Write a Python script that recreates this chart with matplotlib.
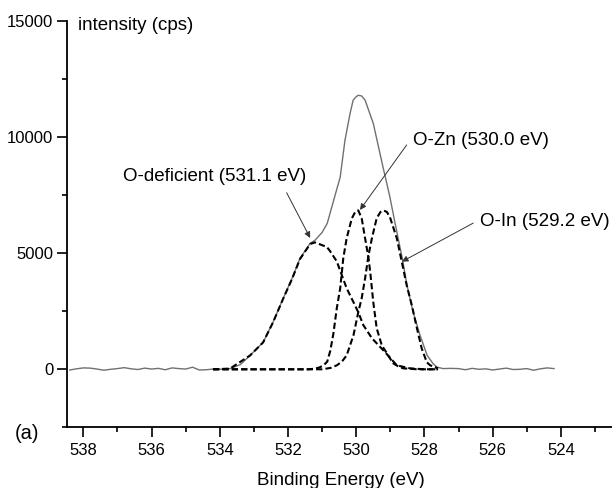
import matplotlib.pyplot as plt
from matplotlib.ticker import MultipleLocator

plt.rcParams['font.family'] = ['Liberation Sans', 'DejaVu Sans']

# measured envelope (binding energy in eV, intensity in cps)
env_E = [538.4, 538.2, 538.0, 537.8, 537.6, 537.4, 537.2, 537.0, 536.8, 536.6,
         536.4, 536.2, 536.0, 535.8, 535.6, 535.4, 535.2, 535.0, 534.8, 534.6,
         534.4, 534.2, 534.0, 533.8, 533.7, 533.4, 533.11, 532.73, 532.44, 532.14,
         531.88, 531.65, 531.35, 531.21, 531.0, 530.85, 530.62, 530.47, 530.33, 530.18,
         530.09, 530.0, 529.94, 529.84, 529.74, 529.5, 529.24, 529.01, 528.86, 528.65,
         528.51, 528.33, 528.13, 527.92, 527.75, 527.63, 527.45, 527.25,
         527.0, 526.8, 526.6, 526.4, 526.2, 526.0, 525.8, 525.6, 525.4, 525.2,
         525.0, 524.8, 524.6, 524.4, 524.2]
env_I = [-30, 20, 60, 50, 10, -40, 0, 30, 70, 20,
         -10, 50, 10, 40, -20, 60, 30, 10, 90, -30,
         -20, 10, 0, 20, 30, 200, 600, 1160, 2030, 3060,
         3920, 4780, 5430, 5560, 5900, 6290, 7500, 8280, 9870, 11030,
         11600, 11750, 11810, 11780, 11600, 10600, 8880, 7410, 6290, 4780,
         3620, 2460, 1470, 600, 250, 90, 30, 40,
         30, -20, 40, 0, 20, -30, 10, 50, -10, 0,
         30, -40, 20, 60, 30]

# fitted components
odef_E = [534.2, 533.7, 533.11, 532.73, 532.44, 532.14, 531.88, 531.65, 531.35, 531.21,
          530.86, 530.77, 530.57, 530.47, 530.28, 530.08, 529.94, 529.79, 529.54, 529.15,
          528.81, 528.42, 528.0, 527.6]
odef_I = [0, 30, 600, 1160, 2020, 3050, 3900, 4750, 5400, 5470,
          5270, 5100, 4650, 4250, 3490, 2890, 2460, 1900, 1340, 730,
          170, 40, 0, 0]

ozn_E = [534.2, 531.4, 531.2, 531.06, 530.95, 530.85, 530.76, 530.67, 530.57, 530.47,
         530.38, 530.28, 530.13, 530.03, 529.94, 529.84, 529.74, 529.64, 529.59, 529.50,
         529.40, 529.25, 529.10, 528.92, 528.75, 528.62, 528.2, 527.6]
ozn_I = [0, 0, 30, 90, 180, 330, 800, 1530, 2630, 3490,
         4780, 5650, 6500, 6780, 6850, 6510, 5650, 4800, 4200, 2900,
         1770, 1030, 690, 260, 110, 40, 0, 0]

oin_E = [534.2, 531.0, 530.75, 530.57, 530.42, 530.28, 530.08, 529.94, 529.84, 529.74,
         529.64, 529.54, 529.40, 529.29, 529.20, 529.10, 529.01, 528.81, 528.66, 528.52,
         528.37, 528.22, 528.08, 527.93, 527.83, 527.6]
oin_I = [0, 0, 60, 170, 330, 600, 1470, 2460, 3060, 3920,
         4910, 5650, 6510, 6780, 6850, 6780, 6550, 5650, 4610, 3620,
         2760, 1770, 900, 300, 170, 40]

# (label, text position, arrow tail, arrow tip)
notes = [
    ('O-deficient (531.1 eV)', (536.84, 8300), (532.04, 7610), (531.35, 5660)),
    ('O-Zn (530.0 eV)', (528.33, 9880), (528.52, 9670), (529.89, 6870)),
    ('O-In (529.2 eV)', (526.37, 6360), (526.57, 6300), (528.66, 4640)),
]

fig = plt.figure(figsize=(6.12, 4.88), dpi=100)
ax = fig.add_axes([0.1095, 0.1244, 0.8905, 0.832])

ax.plot(env_E, env_I, color='#707070', lw=1.0)
dash = (0, (3.0, 1.5))
for e, i in [(odef_E, odef_I), (ozn_E, ozn_I), (oin_E, oin_I)]:
    ax.plot(e, i, color='black', lw=1.5, linestyle=dash)

for label, tpos, tail, tip in notes:
    ax.text(tpos[0], tpos[1], label, fontsize=13.5, ha='left', va='center')
    ax.annotate('', xy=tip, xytext=tail,
                arrowprops=dict(arrowstyle='-|>', color='#333333', lw=0.7,
                                mutation_scale=9, shrinkA=0, shrinkB=0))

ax.set_xlim(538.48, 522.5)
ax.set_ylim(-2500, 15000)
ax.xaxis.set_major_locator(MultipleLocator(2))
ax.xaxis.set_minor_locator(MultipleLocator(1))
ax.yaxis.set_major_locator(MultipleLocator(5000))
ax.yaxis.set_minor_locator(MultipleLocator(2500))
ax.set_yticks([0, 5000, 10000, 15000])

for s in ['top', 'right']:
    ax.spines[s].set_visible(False)
for s in ['left', 'bottom']:
    ax.spines[s].set_linewidth(1.3)
ax.tick_params(which='major', length=7, width=1.2, labelsize=12)
ax.tick_params(axis='x', which='major', pad=4)
ax.tick_params(axis='y', which='major', pad=3)
ax.tick_params(which='minor', length=3.5, width=1.2)

ax.text(538.16, 14800, 'intensity (cps)', fontsize=13.5, ha='left', va='center')
fig.text(0.557, 0.016, 'Binding Energy (eV)', fontsize=13.5, ha='center', va='center')
fig.text(0.0245, 0.1127, '(a)', fontsize=14.5, ha='left', va='center')

fig.savefig('out.png', dpi=100)
